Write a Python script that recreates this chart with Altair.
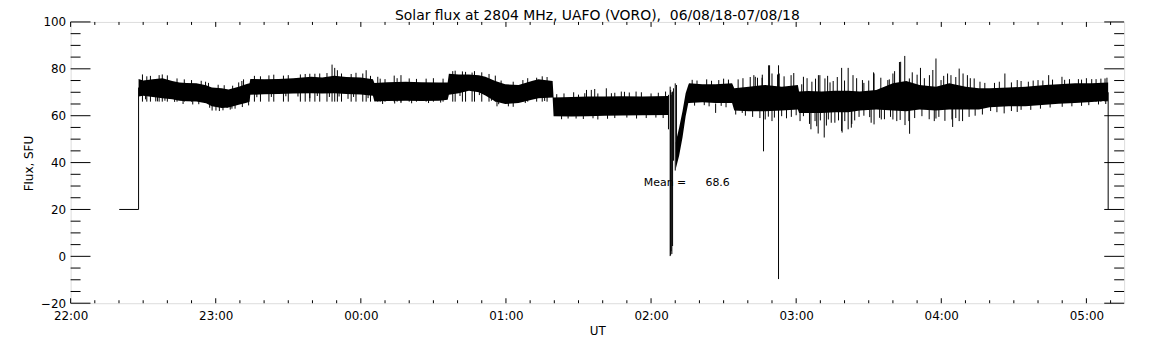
import altair as alt
import pandas as pd

# ---------------- data (t = minutes after 22:00 UT, v = flux in SFU) ----------------
# dense noisy band, segment A (before the 02:08 dip)
bandA_t = [28.1, 30, 34, 38, 42, 45, 48, 52, 56, 58.4, 62.5, 65.3, 69.5, 72.8, 74.0, 74.3, 80, 86, 92,
           99.5, 104, 109, 114, 120, 125.0, 125.6, 131, 138.6, 145, 152.3, 155.9, 156.4, 160.5, 164.7,
           168.8, 171.5, 175.6, 179.7, 185.2, 190.7, 193.4, 199.3, 199.7, 207.1, 214, 220.8, 227.7,
           236.6, 247.0]
bandA_hi = [75.7, 75.0, 75.5, 76.0, 74.8, 74.2, 74.0, 73.8, 73.0, 72.0, 71.7, 71.2, 72.4, 73.5, 73.8,
            75.7, 75.5, 75.7, 76.0, 76.6, 76.3, 77.0, 76.5, 76.3, 75.5, 74.0, 74.3, 74.5, 74.3, 74.2,
            74.2, 77.9, 77.6, 77.6, 77.3, 76.6, 74.8, 73.4, 73.1, 74.8, 75.6, 74.8, 67.8, 68.0, 68.2,
            68.2, 68.3, 68.2, 68.4]
bandA_lo = [68.2, 68.5, 68.0, 67.5, 67.0, 66.4, 66.2, 66.1, 65.3, 64.0, 63.3, 63.5, 64.7, 65.5, 66.0,
            68.9, 69.2, 69.3, 69.5, 69.6, 69.5, 69.6, 69.3, 69.1, 68.5, 66.1, 66.3, 66.4, 66.3, 66.4,
            66.8, 68.9, 69.6, 70.6, 70.0, 68.6, 66.1, 65.0, 65.4, 66.8, 67.5, 67.8, 59.8, 59.7, 59.8,
            60.0, 60.1, 60.2, 60.3]

# segment B (recovery after the dip to the end)
bandB_t = [250.2, 251.6, 253.0, 254.3, 255.4, 255.7, 261.2, 266.7, 273.5, 274.4, 280.4, 287.2, 294.1,
           300.7, 301.2, 305, 310.5, 316, 321.5, 326.3, 333.1, 340, 345.5, 351, 357.8, 363.3, 370.1,
           375.6, 380, 387.9, 394.8, 403, 408.5, 415.3, 422.2, 429]
bandB_hi = [48.6, 54.9, 61.9, 69.6, 73.1, 73.8, 73.4, 73.4, 73.8, 71.7, 72.4, 73.1, 72.4, 73.1, 70.3,
            70.5, 70.3, 70.6, 70.6, 70.3, 71.0, 73.8, 74.8, 73.1, 72.4, 73.8, 72.4, 71.7, 71.7, 72.0,
            72.4, 73.1, 73.4, 73.8, 73.8, 74.2]
bandB_lo = [37.3, 42.9, 50.7, 59.8, 65.4, 65.4, 65.7, 65.4, 65.4, 62.2, 61.9, 61.9, 62.2, 62.6, 61.2,
            61.2, 61.2, 61.5, 61.5, 62.2, 62.6, 62.2, 61.9, 62.6, 62.2, 62.6, 62.6, 62.6, 63.6, 64.0,
            64.0, 64.7, 65.1, 65.4, 65.8, 66.4]

# upward spikes / teeth on the upper edge (time, peak)
up_t = [29.7, 36.6, 37.9, 55.8, 69.5, 70.8, 98.9, 108.1, 109.2, 110.3, 120.8, 122.2, 127, 133.8, 136.6,
        163.3, 166, 175.6, 192.7, 212.6, 213.3, 215.3, 216.7, 221.5, 223.6, 227.7, 233.8,
        282.5, 283.1, 285.9, 288.6, 289, 290, 292.3, 297.9, 302.3, 303, 309.2, 309.8, 311.9, 315.3,
        318.8, 321.5, 323.5, 327.4, 332, 332.2, 337.9, 340, 340.7, 342.7, 343.2, 344.9, 346.8, 351.4,
        355.1, 357.8, 359.9, 362.6, 364, 367.4, 369, 370.8, 373.6, 386.3, 391.4, 404.4, 409.9, 416.7,
        422.2, 427.7,
        31.5, 33, 40, 44, 47, 50, 54, 57, 61, 63.5, 67, 71.5, 76, 78.5, 82, 84, 88, 90, 95, 97, 101,
        103, 106, 112, 116, 118, 124, 128, 130, 135, 140, 143, 147, 150, 154, 158, 159, 162, 167, 170,
        173, 178, 183, 187, 189, 195, 197,
        201, 204, 208, 210, 218, 225, 229, 231, 236, 240, 243, 246,
        257, 259, 263, 265, 268, 270, 272, 276, 278, 281, 284, 286, 293, 295, 299,
        304.5, 306.5, 308, 313, 314, 317, 320, 325, 328, 330, 335, 338.5, 348, 350, 353, 356.5, 361,
        366, 372, 376, 378, 382, 384, 389, 393, 396, 398, 400, 402, 406, 411, 413, 418, 420, 424, 426,
        428.5]
up_hi = [77.6, 77.3, 77.6, 74.5, 74.2, 74.8, 77.9, 81.8, 80.4, 79.4, 78.0, 79.4, 76.6, 77.1, 77.3,
         78.7, 78.4, 77.1, 76.2, 69.6, 71.0, 71.0, 71.4, 71.7, 69.6, 70.3, 70.3,
         77.3, 76.6, 76.2, 81.5, 81.5, 78.0, 77.6, 77.3, 73.4, 76.6, 77.3, 77.3, 75.9, 74.8,
         80.4, 80.4, 77.3, 75.2, 78.5, 78.0, 75.2, 78.0, 79.0, 82.9, 83.0, 85.5, 75.9, 80.4,
         77.3, 84.4, 75.2, 78.0, 77.3, 80.1, 78.0, 77.3, 75.9, 78.0, 75.2, 77.3, 76.6, 75.6,
         75.6, 75.9,
         76.8, 77.0, 77.2, 75.9, 75.5, 75.2, 74.9, 74.0, 73.2, 73.0, 72.8, 75.5, 77.0, 76.8, 77.2,
         77.5, 77.1, 77.3, 77.6, 77.8, 77.9, 78.0, 78.2, 78.0, 77.8, 78.3, 77.0, 75.8, 75.6, 76.0,
         75.9, 75.7, 75.8, 76.0, 75.8, 79.0, 79.2, 78.9, 79.0, 78.5, 77.8, 75.0, 74.5, 75.2, 76.0,
         76.8, 76.5,
         69.2, 69.5, 70.0, 69.0, 69.5, 69.8, 70.2, 69.9, 70.0, 69.5, 69.8, 70.3,
         75.3, 75.0, 75.5, 74.9, 75.2, 75.8, 75.4, 75.5, 76.0, 76.5, 76.2, 77.5, 78.0, 76.8, 78.2,
         76.0, 74.5, 75.8, 77.0, 74.2, 76.5, 75.0, 76.0, 74.0, 75.0, 76.2, 75.5, 78.5, 77.5, 76.0,
         79.5, 77.0, 76.5, 76.0, 74.5, 74.0, 74.0, 74.5, 74.2, 74.8, 74.5, 75.0, 75.2, 75.0, 75.4,
         75.3, 75.6, 75.4, 76.0, 75.6, 75.8, 76.2]

# downward spikes / teeth on the lower edge (time, minimum)
dn_t = [35.2, 35.9, 58.5, 60.1, 64.7, 66.7, 73.6, 98.9, 114.7, 136.6, 176.3, 181, 205.7, 218,
        266.7, 277.7, 286.5, 287.2, 290, 292.7, 301.6, 303, 306.1, 307.8, 309.1, 311.6, 313.3, 316,
        318.8, 319, 320.1, 321.5, 322.8, 324.2, 330.4, 332.2, 334.5, 335.2, 340, 341.6, 346.6, 346.9,
        357.1, 357.8, 364.4, 364.7, 367.4, 368.8, 380.4, 391.4,
        31, 39, 43, 46.5, 50.5, 53, 57.5, 61.5, 63, 66, 68, 71, 77, 83, 89, 94, 102, 107, 111, 117,
        123, 129, 134, 141, 148, 153, 161, 169, 174, 177, 183, 188, 196, 203, 209, 212, 216, 222,
        225, 230, 234, 238, 242, 245,
        258, 262, 264, 269, 271, 275, 279, 282, 285, 288.5, 291, 294, 296, 298, 300,
        305.5, 308.5, 310, 312.5, 314.5, 317.5, 323, 326, 328, 331, 336.5, 339, 343, 345, 349, 352,
        355, 359, 361.5, 366, 371.5, 374, 377, 383, 386, 389, 393, 397, 401, 405, 410, 414, 418, 421,
        425, 428]
dn_lo = [66.1, 66.1, 62.2, 62.2, 63.3, 63.0, 64.4, 67.5, 67.2, 65.4, 64.0, 64.0, 58.8, 58.4,
         61.2, 61.2, 44.8, 58.4, 57.7, 57.7, 57.7, 59.8, 54.2, 57.7, 52.4, 50.7, 58.4, 57.0,
         53.5, 52.8, 57.7, 54.2, 54.9, 58.0, 59.4, 56.3, 59.1, 58.4, 58.4, 57.7, 57.7, 52.3,
         57.7, 58.8, 58.4, 55.2, 57.7, 57.7, 62.0, 61.6,
         67.0, 66.4, 65.9, 65.0, 64.8, 64.9, 63.4, 62.0, 62.3, 62.6, 63.0, 63.7, 67.9, 68.0, 68.3,
         68.2, 68.4, 68.0, 68.2, 68.0, 67.5, 65.0, 65.2, 65.3, 65.4, 65.6, 68.4, 68.8, 66.4, 64.9,
         63.8, 65.4, 66.3, 58.5, 58.8, 58.6, 58.9, 58.7, 59.0, 59.2, 58.8, 59.0, 59.2, 59.0,
         64.3, 64.5, 64.0, 64.2, 63.6, 60.5, 60.0, 59.5, 59.0, 59.6, 59.2, 59.8, 58.9, 59.5, 60.2,
         56.5, 55.5, 58.0, 55.8, 57.0, 58.0, 56.5, 59.5, 60.0, 57.0, 58.5, 59.5, 58.2, 56.0, 59.0,
         59.8, 58.5, 59.5, 57.8, 59.0, 59.5, 60.0, 60.5, 61.5, 61.0, 62.0, 62.5, 62.5, 63.0, 63.5,
         63.8, 64.0, 64.2, 64.5, 64.8, 65.0]

# the deep dip near 02:08 and the single drop near 02:53
drop_t = [247.2, 247.9, 248.1, 248.3, 248.6, 248.9, 249.3, 250.0, 250.5, 292.7]
drop_lo = [54.2, 0.1, 0.5, 2.2, 1.0, 4.4, 40.8, 36.6, 47.9, -9.7]
drop_hi = [68.9, 72.4, 71.0, 68.9, 70.0, 70.3, 71.7, 73.8, 73.1, 81.5]

# start step and end edge
start_t = [20.1, 28.1, 28.1]
start_v = [20.0, 20.0, 72.0]
end_t = [429.0]
end_lo = [20.0]
end_hi = [70.0]

mean_t = [237.0, 262.5]
mean_v = [29.9, 29.9]
mean_txt = ["Mean =", "68.6"]

title = "Solar flux at 2804 MHz, UAFO (VORO), \u00a006/08/18-07/08/18"
xlabels = ["22:00", "23:00", "00:00", "01:00", "02:00", "03:00", "04:00", "05:00"]
xmajor = [0, 60, 120, 180, 240, 300, 360, 420]
xminor = [m for m in range(10, 440, 10) if m % 60 != 0]
ymajor = [-20, 0, 20, 40, 60, 80, 100]
yminor = [m for m in range(-15, 100, 5) if m % 20 != 0]

# ---------------- chart ----------------
W, H = 1060, 283
FONT = "DejaVu Sans"

band = pd.concat([
    pd.DataFrame({"t": bandA_t, "lo": bandA_lo, "hi": bandA_hi, "seg": "A"}),
    pd.DataFrame({"t": bandB_t, "lo": bandB_lo, "hi": bandB_hi, "seg": "B"}),
])
spikes = pd.concat([
    pd.DataFrame({"t": up_t, "lo": [min(h - 4, 66.0) for h in up_hi], "hi": up_hi}),
    pd.DataFrame({"t": dn_t, "lo": dn_lo, "hi": [max(lv + 4, 64.0) for lv in dn_lo]}),
    pd.DataFrame({"t": drop_t, "lo": drop_lo, "hi": drop_hi}),
    pd.DataFrame({"t": end_t, "lo": end_lo, "hi": end_hi}),
])
start = pd.DataFrame({"t": start_t, "v": start_v, "o": [0, 1, 2]})
mean = pd.DataFrame({"t": mean_t, "v": mean_v, "txt": mean_txt})
title_df = pd.DataFrame({"txt": [title]})

xscale = alt.Scale(domain=[0, 435.6], nice=False, zero=False)
yscale = alt.Scale(domain=[-20, 100], nice=False, zero=False)

label_expr = "[" + ",".join("'%s'" % s for s in xlabels) + "][round(datum.value/60)]"
xaxis = alt.Axis(values=xmajor, labelExpr=label_expr, labelFlush=False, ticks=False, domain=False,
                 grid=False, labelFont=FONT, labelFontSize=12, labelColor="black", labelPadding=7,
                 title="UT", titleFont=FONT, titleFontSize=12, titleFontWeight="normal",
                 titleColor="black", titleX=W / 2, titleY=31, titleBaseline="alphabetic")
yaxis = alt.Axis(values=ymajor, ticks=False, domain=False, grid=False, labelFont=FONT,
                 labelFontSize=12, labelColor="black", labelPadding=5, title="Flux, SFU",
                 titleFont=FONT, titleFontSize=12, titleFontWeight="normal", titleColor="black",
                 titleX=-38, titleY=142, titleAngle=-90, titleBaseline="alphabetic",
                 titleAlign="center")

X = alt.X("t:Q", scale=xscale, axis=xaxis)
Y = alt.Y("lo:Q", scale=yscale, axis=yaxis)

titletext = alt.Chart(title_df).mark_text(align="center", baseline="alphabetic", font=FONT,
                                          fontSize=14, color="black").encode(
    x=alt.value(W / 2), y=alt.value(-2), text="txt:N")

txt = alt.Chart(mean).mark_text(align="left", baseline="alphabetic", font=FONT, fontSize=11,
                                color="black").encode(
    x=alt.X("t:Q", scale=xscale, axis=xaxis),
    y=alt.Y("v:Q", scale=yscale, axis=yaxis),
    text="txt:N")

area = alt.Chart(band).mark_area(color="black", interpolate="linear").encode(
    x=X, y=Y, y2="hi:Q", detail="seg:N")

rules = alt.Chart(spikes).mark_rule(color="black", strokeWidth=1).encode(x=X, y=Y, y2="hi:Q")

startline = alt.Chart(start).mark_line(color="black", strokeWidth=1).encode(
    x=alt.X("t:Q", scale=xscale, axis=xaxis),
    y=alt.Y("v:Q", scale=yscale, axis=yaxis), order="o:Q")

ymaj_df = pd.DataFrame({"v": ymajor})
ymin_df = pd.DataFrame({"v": yminor})
xmaj_df = pd.DataFrame({"t": xmajor})
xmin_df = pd.DataFrame({"t": xminor})
Yt = alt.Y("v:Q", scale=yscale, axis=yaxis)
Xt = alt.X("t:Q", scale=xscale, axis=xaxis)


def yticks(df, x0, x1):
    return alt.Chart(df).mark_rule(color="black", strokeWidth=1).encode(
        y=Yt, x=alt.value(x0), x2=alt.value(x1))


def xticks(df, y0, y1):
    return alt.Chart(df).mark_rule(color="black", strokeWidth=1).encode(
        x=Xt, y=alt.value(y0), y2=alt.value(y1))


ticks = [
    yticks(ymaj_df, 0, 20), yticks(ymin_df, 0, 10),
    yticks(ymaj_df, W - 20, W), yticks(ymin_df, W - 10, W),
    xticks(xmaj_df, H, H - 5), xticks(xmin_df, H, H - 3),
    xticks(xmaj_df, 0, 5), xticks(xmin_df, 0, 3),
]

chart = alt.layer(titletext, txt, area, rules, startline, *ticks).properties(
    width=W, height=H,
    autosize=alt.AutoSizeParams(type="none"),
    padding={"left": 63, "top": 13, "right": 20, "bottom": 40},
).configure_view(stroke="black", strokeWidth=1).configure(background="white")

chart.save("out.html", embed_options={"renderer": "svg", "actions": False})
